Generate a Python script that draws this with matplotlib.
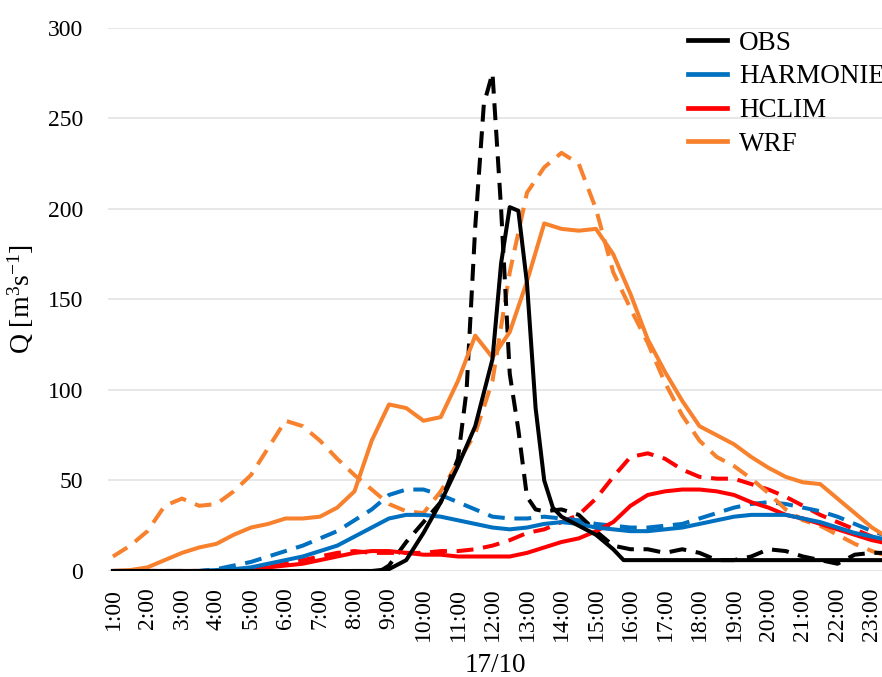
import matplotlib
matplotlib.use("Agg")
from matplotlib import pyplot as plt

plt.rcParams['font.family'] = ['Liberation Serif', 'DejaVu Serif']
plt.rcParams['mathtext.fontset'] = 'custom'
plt.rcParams['mathtext.rm'] = 'Liberation Serif'
plt.rcParams['mathtext.it'] = 'Liberation Serif:italic'

# eje de tiempo cada media hora (1 = 1:00 del 17/10)
horas = [1.0 + 0.5 * i for i in range(46)]

wrf = [0, 0.5, 2, 6, 10, 13, 15, 20, 24, 26, 29, 29, 30, 35, 44, 72, 92, 90,
       83, 85, 105, 130, 118, 132, 160, 192, 189, 188, 189, 175, 153, 128, 110,
       94, 80, 75, 70, 63, 57, 52, 49, 48, 40, 32, 24, 18]
wrf_dash = [8, 14, 22, 36, 40, 36, 37, 44, 53, 68, 83, 80, 72, 62, 53, 45, 37,
            33, 32, 44, 60, 76, 105, 165, 209, 223, 231, 225, 200, 165, 145, 126,
            104, 86, 72, 63, 58, 51, 43, 34, 28, 25, 20, 15, 11, 8]

harmonie = [0, 0, 0, 0, 0, 0, 0.5, 1, 2, 4, 6, 8, 11, 14, 19, 24, 29, 31, 31,
            30, 28, 26, 24, 23, 24, 26, 27, 26, 24, 23, 22, 22, 23, 24, 26, 28,
            30, 31, 31, 31, 29, 27, 24, 21, 19, 17]
harmonie_dash = [0, 0, 0, 0, 0, 0, 1, 3, 5, 8, 11, 14, 18, 22, 28, 34, 42, 45,
                 45, 42, 38, 34, 30, 29, 29, 30, 29, 28, 26, 25, 24, 24, 25, 26,
                 29, 32, 35, 37, 38, 37, 35, 33, 30, 26, 22, 19]

hclim = [0, 0, 0, 0, 0, 0, 0, 0.5, 1, 2, 3, 4, 6, 8, 10, 11, 11, 10, 9, 9, 8,
         8, 8, 8, 10, 13, 16, 18, 22, 27, 36, 42, 44, 45, 45, 44, 42, 38, 35,
         31, 29, 26, 23, 20, 17, 15]
hclim_dash = [0, 0, 0, 0, 0, 0, 0, 0.5, 1, 2, 4, 6, 8, 10, 11, 10, 10, 10, 10,
              11, 11, 12, 14, 17, 21, 23, 27, 31, 40, 52, 63, 65, 62, 56, 52, 51,
              51, 48, 45, 41, 36, 31, 27, 23, 19, 16]

# observados con más resolución cerca del pico
horas_obs = [1, 8.5, 9.0, 9.5, 10.0, 10.5, 11.0, 11.5, 12.0, 12.25, 12.5,
             12.75, 13.0, 13.25, 13.5, 13.75, 14.0, 14.5, 15.0, 15.5, 15.8, 23.5]
obs = [0, 0, 1, 6, 21, 38, 58, 80, 117, 170, 201, 199, 159, 90, 50, 35, 30, 25,
       20, 12, 6, 6]

horas_obs_dash = [1, 8.75, 9.0, 9.5, 10.0, 10.5, 11.0, 11.25, 11.5, 11.75, 12.0,
                  12.25, 12.5, 12.75, 13.0, 13.25, 13.5, 14.0, 14.5, 15.0, 15.5,
                  16.0, 16.5, 17.0, 17.5, 18.0, 18.5, 19.0, 19.5, 20.0, 20.5,
                  21.0, 21.5, 22.0, 22.5, 23.0, 23.5]
obs_dash = [0, 0, 3, 16, 27, 38, 62, 100, 190, 258, 275, 200, 109, 78, 41, 34,
            33, 34, 31, 22, 14, 12, 12, 10, 12, 10, 6, 6, 8, 12, 11, 8, 6, 4, 9,
            10, 10]

ticks = list(range(1, 24))
etiquetas = [f"{h}:00" for h in ticks]

negro = "black"
azul = "#0070C0"
rojo = "#FF0000"
naranja = "#F7812D"

fig = plt.figure(figsize=(8.82, 6.77), dpi=100)
ax = fig.add_axes([0.1224, 0.1566, 0.8776, 0.8021])

lw = 2.9
guion = (4.2, 2.4)

# primero las discontinuas, despues las continuas
ax.plot(horas, hclim_dash, color=rojo, lw=lw, dashes=guion)
ax.plot(horas, harmonie_dash, color=azul, lw=lw, dashes=guion)
ax.plot(horas, wrf_dash, color=naranja, lw=lw, dashes=guion)
ax.plot(horas_obs_dash, obs_dash, color=negro, lw=lw, dashes=guion)

ax.plot(horas, hclim, color=rojo, lw=lw)
ax.plot(horas, harmonie, color=azul, lw=lw)
ax.plot(horas, wrf, color=naranja, lw=lw)
ax.plot(horas_obs, obs, color=negro, lw=lw)

l_obs, = ax.plot([], [], color=negro, lw=3.4, label="OBS")
l_har, = ax.plot([], [], color=azul, lw=3.4, label="HARMONIE")
l_hcl, = ax.plot([], [], color=rojo, lw=3.4, label="HCLIM")
l_wrf, = ax.plot([], [], color=naranja, lw=3.4, label="WRF")

ax.set_xlim(0.855, 23.29)
ax.set_ylim(0, 300)
ax.set_yticks([0, 50, 100, 150, 200, 250, 300])
ax.set_xticks(ticks)
ax.set_xticklabels(etiquetas, rotation=90)

ax.tick_params(axis="y", length=0, pad=18, labelsize=17)
ax.tick_params(axis="x", length=0, pad=12, labelsize=17)

for s in ax.spines.values():
    s.set_visible(False)
ax.grid(axis="y", color="#E3E3E3", lw=1.2)
ax.set_axisbelow(True)

ax.set_xlabel("17/10", fontsize=19.5, labelpad=8)
ax.set_ylabel(r"Q [m$^{3}$s$^{-1}$]", fontsize=20, labelpad=8)

# la leyenda queda cortada en el borde derecho, igual que en el original
ax.legend(handles=[l_obs, l_har, l_hcl, l_wrf], loc="upper left",
          bbox_to_anchor=(0.749, 0.995), frameon=False, fontsize=19.5,
          borderpad=0, borderaxespad=0, handlelength=1.45, handletextpad=0.45,
          labelspacing=0.32)

fig.savefig("out.png", dpi=100)
